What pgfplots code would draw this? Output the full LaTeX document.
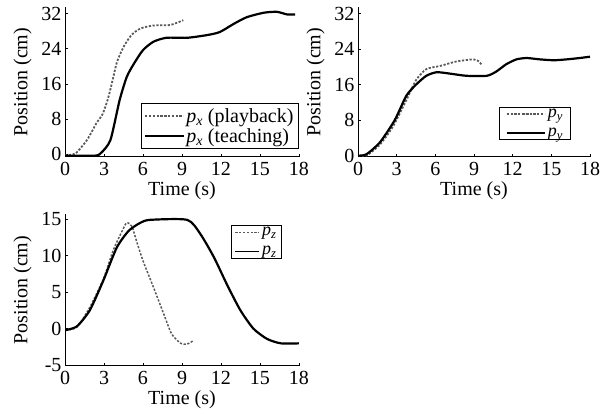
\documentclass[border=0pt]{standalone}
\usepackage{fontspec}
\setmainfont{Liberation Serif}
\usepackage{pgfplots}
\pgfplotsset{compat=1.18}

\pgfplotsset{
  posplot/.style={
    scale only axis, width=234pt,
    axis lines=left, axis line style={-, line width=1pt},
    tick align=inside, major tick length=3pt, tick style={black, line width=0.8pt},
    xmin=0, xmax=18, xtick={0,3,...,18},
    xlabel={Time (s)}, ylabel={Position (cm)},
    font=\fontsize{20}{22}\selectfont,
    tick label style={font=\fontsize{20}{22}\selectfont},
    xticklabel style={yshift=-2pt},
    /pgf/number format/assume math mode=true,
    xlabel style={yshift=1pt}, ylabel style={yshift=3pt},
    legend cell align=left,
    legend style={draw=black, line width=1pt, fill=white, inner xsep=3pt, inner ysep=3pt,
      font=\fontsize{20}{22}\selectfont, row sep=1pt},
    legend image code/.code={\draw[#1] plot coordinates {(0pt,0pt) (19pt,0pt) (38pt,0pt)};},
  },
  playback/.style={black!65, line width=1.8pt, dash pattern=on 2.2pt off 1.6pt, smooth, tension=0.4},
  teaching/.style={black, line width=2.2pt, smooth, tension=0.4},
}

\begin{document}
\begin{tikzpicture}
\useasboundingbox (0,0) rectangle (606pt,414pt);

% top left: p_x
\begin{axis}[posplot, at={(65pt,257pt)}, anchor=south west, height=150pt,
  ymin=-0.6, ymax=33.5, ytick={0,8,16,24,32},
  legend style={at={(1.0,0.05)}, anchor=south east}]
\addplot[playback] coordinates {(0,-0.2)(0.8,0.2)(1.7,3.3)(2.4,7.0)(2.9,9.2)(3.3,12.6)(3.6,16.1)(4.0,21.0)(4.5,24.4)(5.1,27.1)(5.8,28.6)(6.8,29.3)(8.1,29.4)(9.1,30.5)};
\addlegendentry{\textit{p}\textsubscript{\textit{x}} (playback)}
\addplot[teaching] coordinates {(0,-0.3)(2.3,-0.3)(2.8,0.4)(3.5,3.3)(4.2,12.3)(4.75,17.6)(5.3,20.6)(6.0,23.7)(6.8,25.6)(7.8,26.5)(9.4,26.5)(10.9,27.1)(11.9,27.8)(13,29.7)(14,31.2)(15.3,32.2)(16.3,32.4)(17.1,31.8)(17.7,31.8)};
\addlegendentry{\textit{p}\textsubscript{\textit{x}} (teaching)}
\end{axis}

% top right: p_y
\begin{axis}[posplot, at={(358pt,257pt)}, anchor=south west, width=232pt, height=150pt,
  ymin=-0.3, ymax=33.5, ytick={0,8,16,24,32},
  legend style={at={(0.92,0.11)}, anchor=south east, inner xsep=6pt, inner ysep=0pt,
    row sep=5pt, font=\fontsize{18}{18}\selectfont}]
\addplot[playback] coordinates {(0,0)(0.65,0)(1.7,2.5)(2.7,6.5)(3.75,12.5)(4.5,17.0)(5.3,19.5)(6.35,20.2)(7.6,21.2)(8.9,21.7)(9.3,21.4)(9.6,20.5)};
\addlegendentry{\textit{p}\textsubscript{\textit{y}}}
\addplot[teaching] coordinates {(0,0)(0.65,0.3)(1.7,3)(2.85,8)(3.75,13.5)(4.5,16)(5.3,18)(6.1,18.8)(7.1,18.5)(8.4,18.0)(10,18)(10.75,19.0)(11.5,20.6)(12.3,21.7)(13.1,22.0)(14.1,21.7)(15.2,21.5)(16.2,21.7)(17.2,22.0)(18,22.3)};
\addlegendentry{\textit{p}\textsubscript{\textit{y}}}
\end{axis}

% bottom left: p_z
\begin{axis}[posplot, at={(65pt,48pt)}, anchor=south west, height=152pt,
  ymin=-5.1, ymax=15.7, ytick={-5,0,5,10,15},
  legend style={at={(0.927,0.93)}, anchor=north east, inner ysep=0pt, row sep=5pt,
    font=\fontsize{18}{18}\selectfont},
  legend image code/.code={\draw[#1, line width=1.2pt] plot coordinates {(0pt,0pt) (12pt,0pt) (24pt,0pt)};}]
\addplot[playback, line width=1.5pt] coordinates {(0,-0.2)(0.9,0.2)(1.9,2.9)(2.95,6.8)(3.7,10.7)(4.4,13.4)(4.75,14.5)(5.15,14.0)(5.5,12)(6.0,9.3)(6.8,5.7)(7.6,2)(8.2,-0.7)(8.9,-2)(9.4,-2.1)(9.9,-1.6)};
\addlegendentry{\textit{p}\textsubscript{\textit{z}}}
\addplot[teaching] coordinates {(0,-0.2)(0.9,0.3)(1.9,2.5)(2.95,6.6)(3.98,11.1)(4.9,13.4)(5.8,14.5)(6.55,14.9)(9.4,14.9)(10.4,13)(11.45,9.8)(12.5,5.9)(13.5,2.5)(14.5,0)(15.55,-1.4)(16.6,-2)(18,-2)};
\addlegendentry{\textit{p}\textsubscript{\textit{z}}}
\end{axis}
\end{tikzpicture}
\end{document}
